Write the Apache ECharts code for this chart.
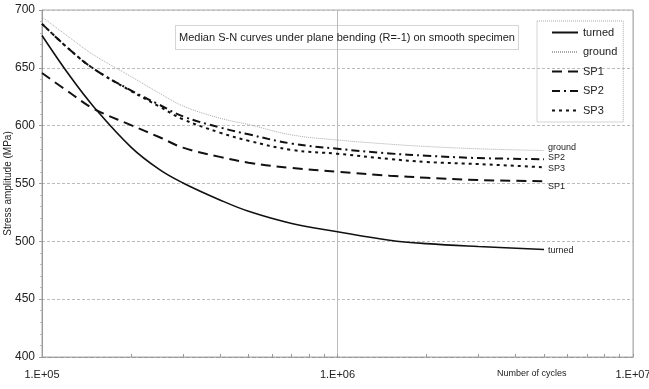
<!DOCTYPE html>
<html>
<head>
<meta charset="utf-8">
<script src="https://cdn.jsdelivr.net/npm/echarts@6/dist/echarts.min.js"></script>
<style>html,body{margin:0;padding:0;background:#fff}#c{width:649px;height:389px}</style>
</head>
<body>
<div id="c"></div>
<script>
const cycles = [1e5, 1.25e5, 1.5e5, 2e5, 2.5e5, 3e5, 4e5, 5e5, 7e5, 1e6, 1.5e6, 2e6, 3e6, 5e6];
const turned = [678, 642, 616, 581.5, 562, 550.5, 535.8, 526, 515.5, 508.3, 501, 498, 495.5, 493];
const ground = [694, 675.5, 661, 642.5, 628, 617, 606.5, 601, 592, 587.6, 584, 582, 580, 578.5];
const sp1 = [645.5, 628, 614.5, 600.5, 590, 581, 573, 568, 563.4, 560.2, 556.8, 555, 553, 552];
const sp2 = [688, 665, 649, 630.5, 618, 608, 598.5, 592.5, 584.5, 580, 576, 574, 572, 571];
const sp3 = [688, 665, 649, 630, 616.5, 605.5, 594, 587, 579, 575.7, 571.2, 568.6, 566.8, 564];
const yTicks = [400, 450, 500, 550, 600, 650, 700];

const FONT = 'Liberation Sans, Arial, sans-serif';
function pairs(vals) { return cycles.map((c, i) => [c, vals[i]]); }
function mk(name, vals, style, labelDy) {
  return {
    name: name, type: 'line', data: pairs(vals), smooth: 0.4,
    symbol: 'none', lineStyle: style, itemStyle: { color: style.color }, silent: true,
    endLabel: { show: true, formatter: name, fontSize: 9, fontFamily: FONT, color: '#222', distance: 4, offset: [0, labelDy] }
  };
}
const chart = echarts.init(document.getElementById('c'), null, { renderer: 'canvas' });
chart.setOption({
  animation: false,
  backgroundColor: '#fff',
  title: {
    text: 'Median S-N curves under plane bending (R=-1) on smooth specimen',
    left: 175, top: 25,
    padding: [7, 4, 7, 4],
    borderColor: '#aaa', borderWidth: 1, borderType: 'dotted',
    textStyle: { fontSize: 11, fontWeight: 'normal', fontFamily: FONT, color: '#222' }
  },
  legend: {
    orient: 'vertical', left: 537, top: 21,
    padding: [6, 6, 6, 14],
    itemWidth: 26, itemHeight: 8, itemGap: 8.5,
    borderColor: '#aaa', borderWidth: 1, borderType: 'dotted',
    itemStyle: { opacity: 0 },
    textStyle: { fontSize: 11, fontFamily: FONT, color: '#222' },
    data: ['turned', 'ground', 'SP1', 'SP2', 'SP3']
  },
  grid: { left: 42, right: 16, top: 10, bottom: 32, containLabel: false, outerBoundsMode: 'none',
    show: true, borderColor: '#aaa', borderWidth: 1 },
  xAxis: {
    type: 'log', logBase: 10, min: 1e5, max: 1e7,
    axisLine: { show: true, lineStyle: { color: '#999', type: 'dashed' } },
    axisTick: { show: true, inside: true, length: 3, lineStyle: { color: '#999' } },
    minorTick: { show: true, splitNumber: 9, length: 3, lineStyle: { color: '#999' } },
    splitLine: { show: true, lineStyle: { color: '#bbb', width: 1 } },
    axisLabel: {
      fontSize: 11, fontFamily: FONT, color: '#222', margin: 12,
      formatter: v => '1.E+' + String(Math.round(Math.log10(v))).padStart(2, '0')
    }
  },
  yAxis: {
    type: 'value', min: 400, max: 700, interval: 50,
    name: 'Stress amplitude (MPa)', nameLocation: 'middle', nameGap: 29, nameMoveOverlap: false,
    nameTextStyle: { fontSize: 10, fontFamily: FONT, color: '#222' },
    axisLine: { show: true, lineStyle: { color: '#999' } },
    axisTick: { show: true, length: 3, lineStyle: { color: '#999' } },
    minorTick: { show: true, splitNumber: 5, length: 2, lineStyle: { color: '#bbb' } },
    splitLine: { show: true, lineStyle: { color: '#bbb', type: [3, 2], width: 1 } },
    axisLabel: { fontSize: 12, fontFamily: FONT, color: '#222', margin: 7,
      formatter: v => yTicks.includes(v) ? String(v) : '' }
  },
  graphic: [{
    type: 'text', left: 497, top: 369,
    style: { text: 'Number of cycles', fontSize: 9, fontFamily: FONT, fill: '#222' }
  }],
  series: [
    mk('turned', turned, { color: '#111', width: 1.6, type: 'solid' }, 1),
    mk('ground', ground, { color: '#aaa', width: 1, type: [1, 1] }, -3),
    mk('SP1', sp1, { color: '#111', width: 2, type: [10, 6] }, 5),
    mk('SP2', sp2, { color: '#111', width: 2, type: [8, 4, 2, 4] }, -2),
    mk('SP3', sp3, { color: '#111', width: 2, type: [3, 4] }, 1)
  ]
});
</script>
</body>
</html>
